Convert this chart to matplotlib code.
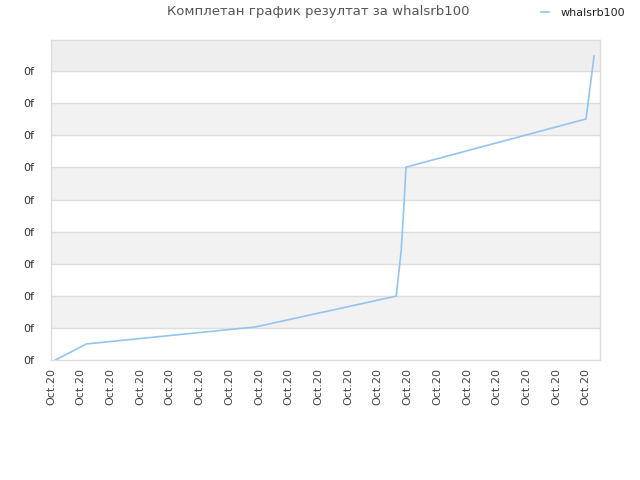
import matplotlib
matplotlib.use("Agg")
import matplotlib.pyplot as plt

# data (x in tick-index units, y in grid units)
x_vals = [0.15, 1.19, 6.88, 11.62, 11.79, 11.89, 11.95, 18.01, 18.28]
y_vals = [0.0, 0.50, 1.03, 1.99, 3.43, 4.98, 6.01, 7.51, 9.47]
x_ticks = list(range(19))
x_labels = ["Oct.20"] * 19
y_ticks = list(range(10))
y_labels = ["0f"] * 10
series_name = "whalsrb100"
title = "Комплетан график резултат за whalsrb100"

fig = plt.figure(figsize=(6.4, 4.8), dpi=100)
ax = fig.add_axes([51/640, 1-360/480, (600-51)/640, (360-40)/480])
ymax = 9.97
ax.set_xlim(0.02, 18.48)
ax.set_ylim(0, ymax)

for lo in [1, 3, 5, 7, 9]:
    hi = min(lo + 1, ymax)
    ax.axhspan(lo, hi, color="#eeeeee" if lo == 9 else "#f2f2f2", zorder=0, lw=0)
for y in y_ticks[1:]:
    ax.axhline(y, color="#dddddd", lw=1, zorder=1)

ax.plot(x_vals, y_vals, color="#93c4f2", lw=1.2, zorder=3, label=series_name)

ax.set_xticks(x_ticks)
ax.set_xticklabels(x_labels, rotation=90, fontsize=8, color="#444444")
ax.set_yticks(y_ticks)
ax.set_yticklabels(y_labels, fontsize=8, color="#333333")
ax.tick_params(length=0, pad=6)
ax.tick_params(axis="y", pad=12)
for s in ax.spines.values():
    s.set_color("#dddddd")
    s.set_linewidth(1)

fig.text(318/640, 1-12/480, title, ha="center", va="center", fontsize=9.5, color="#555555")
leg = fig.legend(loc="center left", bbox_to_anchor=(535/640, 1-13/480), frameon=False,
                 fontsize=8, handlelength=0.8, handletextpad=1.0, borderpad=0)
for t in leg.get_texts():
    t.set_color("#222222")

fig.savefig("out.png", dpi=100)
